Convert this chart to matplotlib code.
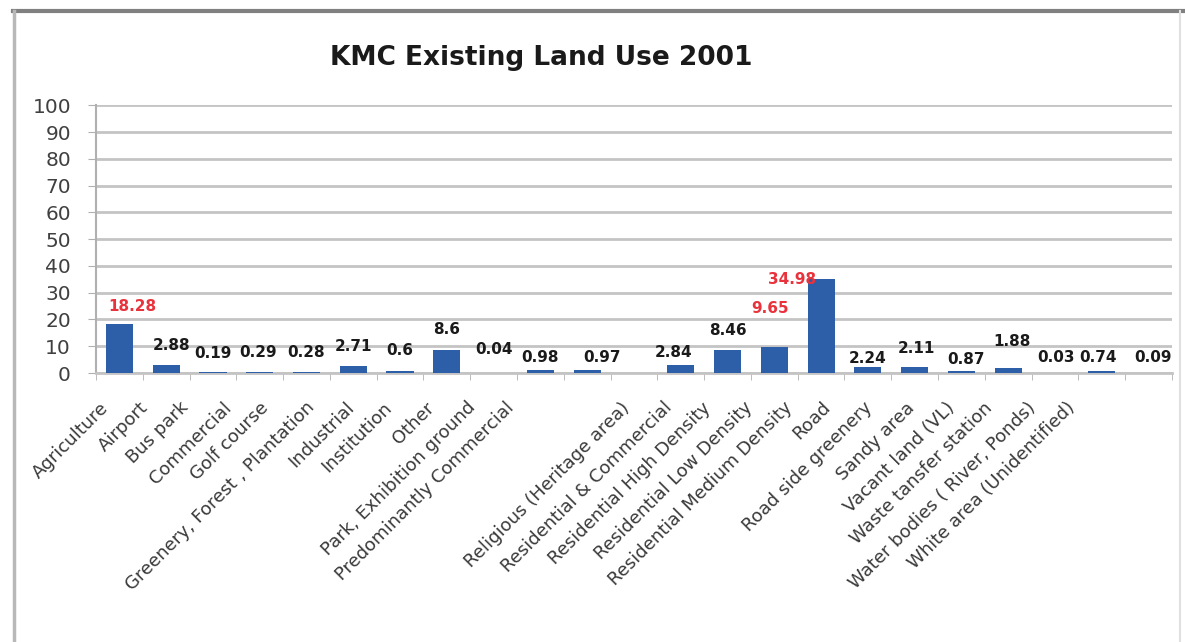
import numpy as np
import matplotlib.pyplot as plt
import matplotlib.transforms as mtransforms
from matplotlib.lines import Line2D

# datos
categorias = [
    "Agriculture", "Airport", "Bus park", "Commercial", "Golf course",
    "Greenery, Forest , Plantation", "Industrial", "Institution", "Other",
    "Park, Exhibition ground", "Predominantly Commercial",
    "Religious (Heritage area)", "Residential & Commercial",
    "Residential High Density", "Residential Low Density",
    "Residential Medium Density", "Road", "Road side greenery", "Sandy area",
    "Vacant land (VL)", "Waste tansfer station", "Water bodies ( River, Ponds)",
    "White area (Unidentified)",
]
valores = [18.28, 2.88, 0.19, 0.29, 0.28, 2.71, 0.6, 8.6, 0.04, 0.98, 0.97,
           np.nan, 2.84, 8.46, 9.65, 34.98, 2.24, 2.11, 0.87, 1.88, 0.03,
           0.74, 0.09]
etiquetas = ["18.28", "2.88", "0.19", "0.29", "0.28", "2.71", "0.6", "8.6",
             "0.04", "0.98", "0.97", "", "2.84", "8.46", "9.65", "34.98",
             "2.24", "2.11", "0.87", "1.88", "0.03", "0.74", "0.09"]
destacados = [0, 14, 15]  # etiquetas en rojo

# desplazamiento de cada etiqueta de valor (pixeles) respecto a la punta de la barra
desp_x = [13, 5, 0, -2, 0, 0, 0, 0, 0, 0, 15, 0, -7, 0, -4, -29, 0, 2, 5, 4, 1, -4, 4]
desp_y = [18, 20, 19, 20, 20, 19, 21, 20, 23, 13, 13, 0, 13, 20, 39, 0, 9, 19, 11, 26, 15, 14, 15]
# desplazamiento horizontal de los nombres de categoria (pixeles)
desp_cat = [-14, -21, -27, -31, -41, -42, -49, -58, -62, -68, -76, -7, -11,
            -20, -25, -32, -40, -45, -50, -56, -65, -69, -76]

fig = plt.figure(figsize=(11.85, 6.42), dpi=100)
ax = fig.add_axes([0.081, 0.419, 0.908, 0.417])

x = np.arange(len(categorias))
ax.bar(x, np.nan_to_num(valores), width=0.58, color="#2d5ea8", zorder=3)

for i, txt in enumerate(etiquetas):
    if not txt:
        continue
    color = "#e8323c" if i in destacados else "#1a1a1a"
    ax.annotate(txt, (x[i], valores[i]),
                xytext=(desp_x[i] * 0.72, desp_y[i] * 0.72),
                textcoords="offset points", ha="center", va="center",
                fontsize=11, fontweight="bold", color=color, zorder=4)

ax.set_xlim(-0.5, len(categorias) - 0.5)
ax.set_ylim(0, 100)
ax.set_yticks(np.arange(0, 101, 10))
ax.yaxis.grid(True, color="#c4c4c4", linewidth=2, zorder=0)
ax.set_axisbelow(True)

ax.set_xticks(x)
ax.set_xticklabels(categorias, rotation=45, ha="right", va="center",
                   rotation_mode="anchor", fontsize=13, color="#3a3a3a")
ax.set_xticks(np.arange(-0.5, len(categorias), 1), minor=True)
ax.tick_params(axis="x", which="major", length=0, pad=23)
ax.tick_params(axis="x", which="minor", length=5, color="#b0b0b0")
ax.tick_params(axis="y", labelsize=14.5, labelcolor="#404040", length=6,
               color="#b0b0b0", pad=12)

for lbl, dx in zip(ax.get_xticklabels(), desp_cat):
    lbl.set_transform(lbl.get_transform() +
                      mtransforms.ScaledTranslation(dx / 100, 0, fig.dpi_scale_trans))

for lado in ["top", "right"]:
    ax.spines[lado].set_visible(False)
ax.spines["left"].set_color("#b0b0b0")
ax.spines["bottom"].set_color("#c4c4c4")
ax.spines["left"].set_linewidth(1.5)
ax.spines["bottom"].set_linewidth(2)

fig.text(0.457, 0.91, "KMC Existing Land Use 2001", ha="center", va="center",
         fontsize=19, fontweight="bold", color="#1a1a1a")

# marco del grafico
fig.add_artist(Line2D([0.011, 1.0], [0.983, 0.983], color="#808080", linewidth=3))
fig.add_artist(Line2D([0.012, 0.012], [0.0, 0.983], color="#b8b8b8", linewidth=2.5))
fig.add_artist(Line2D([0.996, 0.996], [0.0, 0.983], color="#e0e0e0", linewidth=1.5))

fig.savefig("out.png", dpi=100)
